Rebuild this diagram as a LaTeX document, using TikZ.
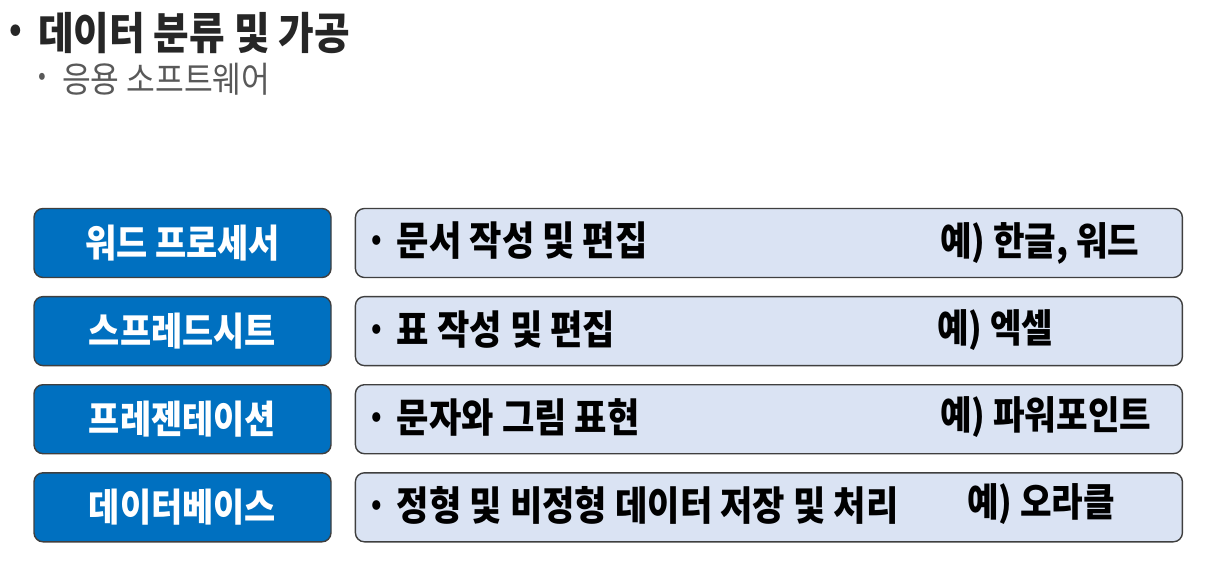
\documentclass[tikz,border=0pt]{standalone}
\usepackage{fontspec}
\setmainfont{Noto Sans CJK KR}[FakeStretch=0.88]
\usetikzlibrary{positioning,calc}
\definecolor{catblue}{HTML}{0070C0}
\definecolor{descfill}{HTML}{DAE3F3}
\definecolor{edgegray}{HTML}{3F3F3F}
\definecolor{titlegray}{HTML}{262626}
\definecolor{subgray}{HTML}{595959}
\tikzset{
  catbox/.style={rectangle,rounded corners=9pt,draw=edgegray,line width=1.4pt,fill=catblue,
    minimum width=297pt,minimum height=69pt,text=white,font=\fontsize{38.5}{38.5}\selectfont\bfseries},
  descbox/.style={rectangle,rounded corners=9pt,draw=edgegray,line width=1.4pt,fill=descfill,
    minimum width=827pt,minimum height=69pt},
  desc/.style={anchor=base west,inner sep=0pt,font=\fontsize{40}{40}\selectfont\bfseries},
  ex/.style={anchor=base west,inner sep=0pt,font=\fontsize{39}{39}\selectfont\bfseries},
  dot/.style={inner sep=0pt,font=\fontsize{30}{30}\selectfont\bfseries}
}
\begin{document}
\begin{tikzpicture}[x=1pt,y=-1pt]
\useasboundingbox (0,0) rectangle (1221,561);
% heading
\node[dot,font=\fontsize{36}{36}\selectfont\bfseries,text=titlegray] (hdot) at (16,33) {•};
\node[anchor=west,inner sep=0pt,font=\fontsize{44}{44}\selectfont\bfseries,text=titlegray] (head) at (38,33) {데이터 분류 및 가공};
\node[dot,font=\fontsize{26}{26}\selectfont,text=subgray] (sdot) at (42,79) {•};
\node[anchor=west,inner sep=0pt,font=\fontsize{35.5}{35.5}\selectfont,text=subgray] (sub) at (62,79) {응용 소프트웨어};
% categories
\node[catbox] (C1) at (182.5,243) {워드 프로세서};
\node[catbox,below=17.7pt of C1] (C2) {스프레드시트};
\node[catbox,below=17.7pt of C2] (C3) {프레젠테이션};
\node[catbox,below=17.7pt of C3] (C4) {데이터베이스};
\node[descbox,right=23pt of C1] (D1) {};
\node[descbox,right=23pt of C2] (D2) {};
\node[descbox,right=23pt of C3] (D3) {};
\node[descbox,right=23pt of C4] (D4) {};
% descriptions
\node[dot] (b1) at ([xshift=22pt]D1.west) {•};
\node[dot] (b2) at ([xshift=22pt]D2.west) {•};
\node[dot] (b3) at ([xshift=22pt]D3.west) {•};
\node[dot] (b4) at ([xshift=22pt]D4.west) {•};
\node[desc] (t1) at ([xshift=42pt,yshift=-13pt]D1.west) {문서 작성 및 편집};
\node[desc] (t2) at ([xshift=42pt,yshift=-13pt]D2.west) {표 작성 및 편집};
\node[desc] (t3) at ([xshift=42pt,yshift=-13pt]D3.west) {문자와 그림 표현};
\node[desc] (t4) at ([xshift=42pt,yshift=-13pt]D4.west) {정형 및 비정형 데이터 저장 및 처리};
% examples
\node[ex] (e1) at ([yshift=-13pt]940,243) {예) 한글, 워드};
\node[ex] (e2) at ([yshift=-13pt]937,329.7) {예) 엑셀};
\node[ex] (e3) at ([yshift=-13pt]940,416.3) {예) 파워포인트};
\node[ex] (e4) at ([yshift=-13pt]967,503) {예) 오라클};
\end{tikzpicture}
\end{document}
